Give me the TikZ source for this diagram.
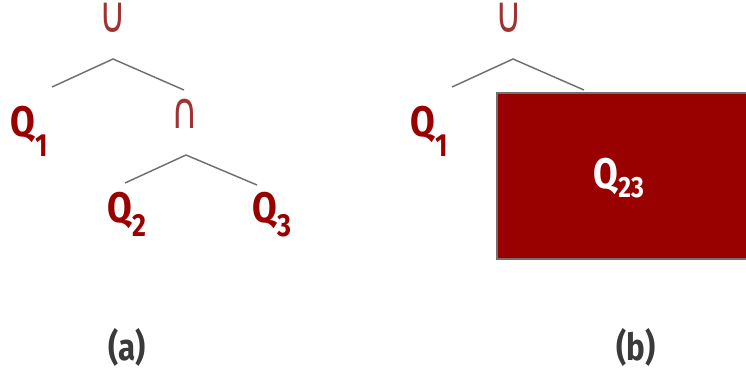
\documentclass[tikz,border=0pt]{standalone}
\usepackage{fontspec}
\setmainfont{Fira Sans}[FakeStretch=0.84]
\newfontfamily\symfont{DejaVu Sans}
\definecolor{qred}{HTML}{990000}
\definecolor{opred}{HTML}{A03232}
\definecolor{lblgray}{HTML}{3A3A3A}
\definecolor{edgegray}{HTML}{707070}
\newcommand\Qs[3]{Q\kern0.3pt\raisebox{#2}{\fontsize{#3}{#3}\selectfont #1}}
\newcommand\opsym[1]{\scalebox{0.72}[1]{#1}}
\tikzset{
  qlabel/.style={anchor=base west, inner sep=0pt, text=qred, font=\fontsize{32}{32}\selectfont\bfseries},
  oplabel/.style={inner sep=0pt, text height=17pt, text depth=0pt, text=opred, font=\symfont\fontsize{38}{38}\selectfont},
  edge/.style={draw=edgegray, line width=1.1pt},
  caption/.style={inner sep=0pt, text=lblgray, font=\fontsize{28}{28}\selectfont\bfseries},
}
\begin{document}
\begin{tikzpicture}[x=0.75pt, y=-0.75pt]
\useasboundingbox (0,0) rectangle (746,375);
\clip (0,0) rectangle (746,375);
% (a)
\node[oplabel] (ua) at (113,21) {\opsym{∪}};
\coordinate (uatop) at (113,59);
\coordinate (uaL) at (52,87);
\coordinate (uaR) at (184,90);
\draw[edge] (uaL) -- (uatop) -- (uaR);
\node[qlabel] (q1a) at (10,136) {\Qs{1}{-15pt}{24}};
\node[oplabel] (ia) at (185,117) {\opsym{∩}};
\coordinate (iatop) at (186,155);
\coordinate (iaL) at (125,183);
\coordinate (iaR) at (257,185);
\draw[edge] (iaL) -- (iatop) -- (iaR);
\node[qlabel] (q2) at (107,222) {\Qs{2}{-11pt}{24}};
\node[qlabel] (q3) at (252,222) {\Qs{3}{-11pt}{24}};
\node[caption] (capa) at (127,347) {(a)};
% (b)
\node[oplabel] (ub) at (509,21) {\opsym{∪}};
\coordinate (ubtop) at (513,59);
\coordinate (ubL) at (452,87);
\coordinate (ubR) at (584,90);
\draw[edge] (ubL) -- (ubtop) -- (ubR);
\node[qlabel] (q1b) at (410,136) {\Qs{1}{-15pt}{24}};
\node[draw=edgegray, line width=1.6pt, fill=qred, anchor=north west, minimum width=280*0.75pt, minimum height=166*0.75pt, inner sep=0pt] (box) at (496,92) {};
\node[qlabel, text=white] (q23) at (593,188) {\Qs{23}{-7pt}{22}};
\node[caption] (capb) at (636,347) {(b)};
\end{tikzpicture}
\end{document}
